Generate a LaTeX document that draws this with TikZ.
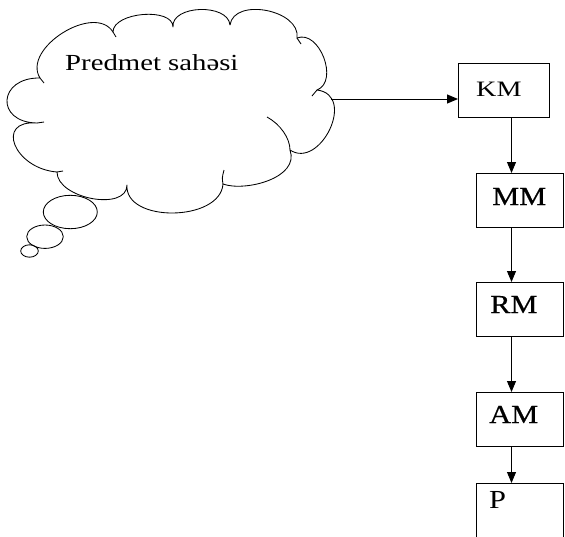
\documentclass[tikz,border=0pt]{standalone}
\usepackage{fontspec}
\setmainfont{Liberation Serif}
\newfontfamily\kmfont{Liberation Serif}[FakeStretch=1.28]
\newfontfamily\boxfont{Liberation Serif}[FakeStretch=1.17,FakeBold=0.6]
\newfontfamily\pfont{Liberation Serif}[FakeStretch=1.17]
\newfontfamily\cloudfont{Liberation Serif}[FakeStretch=1.25]
\usetikzlibrary{arrows.meta}
\tikzset{
  box/.style={draw, line width=1.1pt, inner sep=0pt, anchor=north west, minimum height=54pt},
  lbl/.style={inner sep=0pt, anchor=base west, font=\boxfont\fontsize{26pt}{30pt}\selectfont},
  arr/.style={line width=1pt, -{Triangle[length=11pt,width=9pt]}},
  cloudline/.style={line width=0.85pt, line join=round},
}
\begin{document}
\begin{tikzpicture}[x=1pt,y=-1pt]
\clip (0,0) rectangle (565,536);
\useasboundingbox (0,0) rectangle (565,536);
% cloud
\draw[cloudline] (40,78) .. controls (21.5,48.5) and (94.5,2.5) .. (113,32)
  .. controls (113,12) and (173,7) .. (173,27)
  .. controls (171,5) and (228,3) .. (230,25)
  .. controls (234,-3) and (301,10) .. (297,38)
  .. controls (319.3,29.3) and (339.3,81.3) .. (317,90)
  .. controls (357,95) and (320,170) .. (290,150)
  .. controls (300,178) and (245,192) .. (223,184)
  .. controls (220.3,222) and (124.3,223) .. (127,185)
  .. controls (127,211.7) and (57,198.7) .. (57,172)
  .. controls (14.3,168.7) and (-5.7,119.7) .. (37,123)
  .. controls (-5,122.3) and (-2,77.3) .. (40,78);
% inner strokes of the cloud
\draw[cloudline] (267,117) .. controls (280,124) and (290,138) .. (290,150);
\draw[cloudline] (223,184) .. controls (222,178) .. (224,170);
\draw[cloudline] (297,38) -- (301,44);
\draw[cloudline] (317,90) -- (312,96);
\draw[cloudline] (57,172) -- (63,171);
\draw[cloudline] (40,78) -- (44,83);
\draw[cloudline] (37,123) -- (44,122);
\draw[cloudline] (113,32) -- (116,37);
% thought bubbles
\draw[cloudline] (70.3,212) ellipse [x radius=27, y radius=16.7];
\draw[cloudline] (45,236.7) ellipse [x radius=18.3, y radius=11.7];
\draw[cloudline] (29.5,251) ellipse [x radius=8.8, y radius=6.2];
\node[inner sep=0pt, anchor=base west, font=\cloudfont\fontsize{23pt}{27pt}\selectfont] (ctext) at (65,70) {Predmet sahəsi};
\coordinate (cloudout) at (331,99);
% boxes
\node[box, minimum width=91pt] (km) at (458,63) {};
\node[box, minimum width=87pt] (mm) at (476,173) {};
\node[box, minimum width=87pt] (rm) at (476,282) {};
\node[box, minimum width=87pt] (am) at (476,392) {};
\node[box, minimum width=87pt] (p) at (476,483) {};
\node[inner sep=0pt, anchor=base west, font=\kmfont\fontsize{22pt}{26pt}\selectfont] (kmt) at (476,96) {KM};
\node[lbl] (mmt) at (492,205) {MM};
\node[lbl] (rmt) at (490,313) {RM};
\node[lbl] (amt) at (489,423) {AM};
\node[lbl, font=\pfont\fontsize{26pt}{30pt}\selectfont] (pt) at (489,508) {P};
\coordinate (xl) at (511.5,0);
% connectors
\draw[arr] (cloudout) -- (cloudout -| km.west);
\draw[arr] (km.south -| xl) -- (mm.north -| xl);
\draw[arr] (mm.south -| xl) -- (rm.north -| xl);
\draw[arr] (rm.south -| xl) -- (am.north -| xl);
\draw[arr] (am.south -| xl) -- (p.north -| xl);
\end{tikzpicture}
\end{document}
